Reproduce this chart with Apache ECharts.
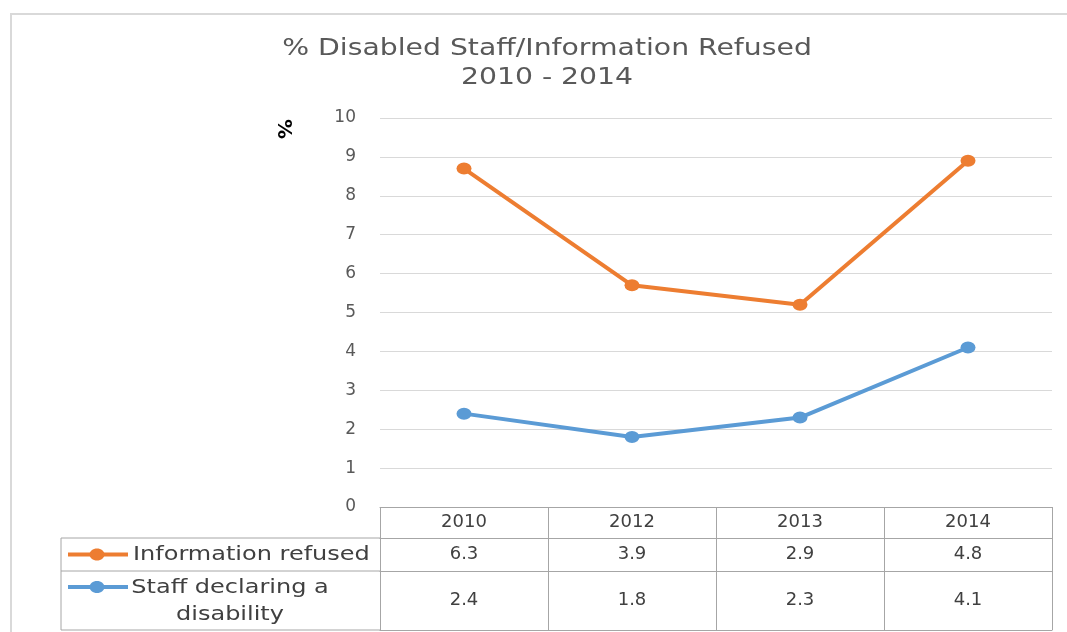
<!DOCTYPE html>
<html>
<head>
<meta charset="utf-8">
<script src="https://cdn.jsdelivr.net/npm/echarts@6/dist/echarts.min.js"></script>
<style>html,body{margin:0;padding:0;background:#fff}#c{width:1067px;height:632px}</style>
</head>
<body>
<div id="c"></div>
<script>
const categories = ['2010', '2012', '2013', '2014'];
const infoRefused = [6.3, 3.9, 2.9, 4.8];
const staffDisability = [2.4, 1.8, 2.3, 4.1];
const seriesNames = ['Information refused', 'Staff declaring a\ndisability'];
const titleText = '% Disabled Staff/Information Refused\n2010 - 2014';

const ORANGE = '#ED7D31', BLUE = '#5B9BD5';
const TXT = '#404040', AXT = '#595959', TBL = '#a6a6a6';
const FONT = 'DejaVu Sans';

const chart = echarts.init(document.getElementById('c'), null, {renderer: 'canvas'});

function tableAxis(offset, margin, fmt, showLabel) {
  return {
    type: 'category', data: categories, position: 'bottom', offset: offset,
    boundaryGap: true,
    axisLine: {show: true, lineStyle: {color: TBL, width: 1}},
    axisTick: {show: false},
    axisLabel: {show: showLabel, interval: 0, margin: margin, color: TXT, fontSize: 18, fontFamily: FONT, formatter: fmt}
  };
}

chart.setOption({
  animation: false,
  backgroundColor: '#fff',
  grid: {left: 380, right: 15, top: 118, bottom: 125, containLabel: false},
  xAxis: [
    {
      type: 'category', data: categories, position: 'bottom', boundaryGap: true,
      axisLine: {show: true, lineStyle: {color: TBL, width: 1}},
      axisTick: {show: true, interval: 0, length: 123, lineStyle: {color: TBL, width: 1}},
      axisLabel: {show: true, interval: 0, margin: 6, color: TXT, fontSize: 18, fontFamily: FONT}
    },
    tableAxis(31, 7, (v, i) => infoRefused[i].toFixed(1), true),
    tableAxis(64, 20, (v, i) => staffDisability[i].toFixed(1), true),
    tableAxis(123, 0, v => '', false)
  ],
  yAxis: {
    type: 'value', min: 0, max: 10, interval: 1,
    axisLine: {show: false}, axisTick: {show: false},
    splitLine: {lineStyle: {color: '#d9d9d9', width: 1}},
    axisLabel: {color: AXT, fontSize: 17, fontFamily: FONT, margin: 24}
  },
  series: [
    {
      name: seriesNames[1], type: 'line', stack: 'total', data: staffDisability, xAxisIndex: 0,
      symbol: 'circle', symbolSize: [15, 12],
      lineStyle: {color: BLUE, width: 4}, itemStyle: {color: BLUE}
    },
    {
      name: seriesNames[0], type: 'line', stack: 'total', data: infoRefused, xAxisIndex: 0,
      symbol: 'circle', symbolSize: [15, 12],
      lineStyle: {color: ORANGE, width: 4}, itemStyle: {color: ORANGE}
    }
  ]
});

// Legend column of the data table, title and frame, positioned from the grid
const gridRect = chart.getModel().getComponent('grid', 0).coordinateSystem.getRect();
const x0 = gridRect.x, yb = gridRect.y + gridRect.height;
const r1 = yb + 31, r2 = yb + 64, r3 = yb + 123, lx = 61;
function legendIcon(y, color) {
  return [
    {type: 'line', shape: {x1: lx + 7, y1: y, x2: lx + 67, y2: y}, style: {stroke: color, lineWidth: 4}},
    {type: 'ellipse', shape: {cx: lx + 36, cy: y, rx: 7.5, ry: 6}, style: {fill: color}}
  ];
}
chart.setOption({
  graphic: [
    {type: 'rect', shape: {x: 11, y: 14, width: 1100, height: 700}, style: {fill: 'none', stroke: '#d9d9d9', lineWidth: 2}, silent: true},
    {type: 'text', x: 547, y: 64, scaleX: 1.23, style: {text: titleText, fontFamily: FONT, fontSize: 23, fill: AXT, align: 'center', verticalAlign: 'middle', lineHeight: 29}},
    {type: 'line', shape: {x1: lx, y1: r1, x2: x0, y2: r1}, style: {stroke: TBL, lineWidth: 1}},
    {type: 'line', shape: {x1: lx, y1: r2, x2: x0, y2: r2}, style: {stroke: TBL, lineWidth: 1}},
    {type: 'line', shape: {x1: lx, y1: r3, x2: x0, y2: r3}, style: {stroke: TBL, lineWidth: 1}},
    {type: 'line', shape: {x1: lx, y1: r1, x2: lx, y2: r3}, style: {stroke: TBL, lineWidth: 1}},
    ...legendIcon((r1 + r2) / 2, ORANGE),
    ...legendIcon(r2 + 16, BLUE),
    {type: 'text', x: lx + 72, y: (r1 + r2) / 2, scaleX: 1.2, style: {text: seriesNames[0], fontFamily: FONT, fontSize: 20, fill: TXT, verticalAlign: 'middle', align: 'left'}},
    {type: 'text', x: 230, y: r2 + 30, scaleX: 1.2, style: {text: seriesNames[1], fontFamily: FONT, fontSize: 20, fill: TXT, verticalAlign: 'middle', align: 'center', lineHeight: 27}},
    {type: 'text', x: 283, y: 129, rotation: -Math.PI / 2, style: {text: '%', fontFamily: FONT, fontSize: 20, fontWeight: 'bold', fill: '#000', align: 'center', verticalAlign: 'middle'}}
  ]
});
</script>
</body>
</html>
